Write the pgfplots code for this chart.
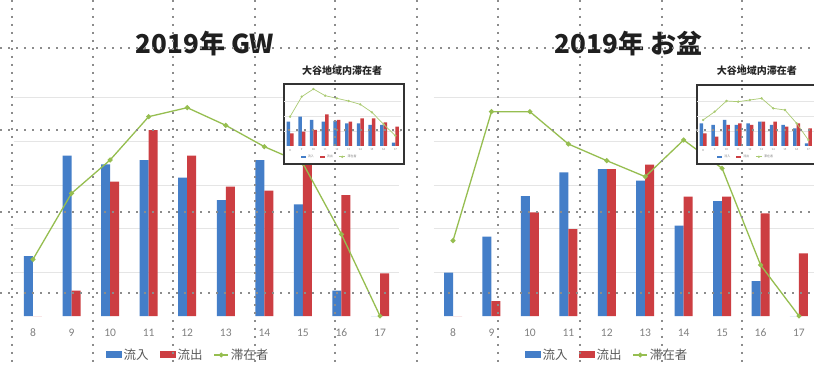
\documentclass[border=0pt]{standalone}
\usepackage{fontspec}
\usepackage{pgfplots}
\usepackage{pgfplotstable}
\pgfplotsset{compat=1.18}
\newfontfamily\cjk{Noto Sans CJK JP}
\newfontfamily\carlito{Carlito}
\definecolor{cblue}{RGB}{68,126,200}
\definecolor{cred}{RGB}{204,62,66}
\definecolor{cgreen}{RGB}{150,190,80}

\pgfplotstableread{
x in out stay
8 180 0 170
9 481 76 368
10 455 403 468
11 468 558 598
12 415 481 625
13 348 388 572
14 468 376 508
15 335 485 458
16 76 363 245
17 0 128 0
}\gw
\pgfplotstableread{
x in out stay
8 130 0 226
9 238 45 613
10 360 311 613
11 431 261 516
12 441 441 466
13 406 454 418
14 271 358 528
15 345 358 443
16 105 308 153
17 0 188 0
}\obon
\pgfplotstableread{
x in out stay
8 73 38 88
9 88 43 148
10 78 48 171
11 73 95 151
12 75 78 143
13 68 73 135
14 68 83 125
15 63 83 101
16 63 71 65
17 10 58 31
}\gwi
\pgfplotstableread{
x in out stay
8 68 38 78
9 63 28 103
10 78 63 135
11 63 68 133
12 68 63 138
13 73 73 143
14 63 73 113
15 63 58 108
16 53 68 68
17 8 53 18
}\oboni

\pgfplotsset{
 mainax/.style={
  scale only axis, height=240pt, ymin=0, ymax=720, xmin=7.5, xmax=17.5,
  anchor=south west, clip=false,
  axis line style={draw=none}, tick style={draw=none},
  xtick={8,...,17}, xticklabels={8,9,10,11,12,13,14,15,16,17},
  ytick={131,262,393,524,655}, yticklabels={}, ymajorgrids,
  grid style={black!10, line width=0.6pt},
  xticklabel style={font=\carlito\fontsize{11.5}{13}\selectfont, text=black!50, anchor=center, yshift=-17pt},
  title style={font=\cjk\bfseries\fontsize{26}{30}\selectfont, anchor=center, text=black!88},
  legend style={draw=none, fill=none, font=\cjk\fontsize{12.5}{14}\selectfont, text=black!65,
    anchor=center, /tikz/every even column/.append style={column sep=9pt}},
  legend columns=3,
 },
 insetax/.style={
  scale only axis, width=117pt, height=60pt, ymin=0, ymax=180, xmin=7.5, xmax=17.5,
  anchor=south west, clip=false,
  axis line style={draw=none}, tick style={draw=none},
  xtick={8,...,17}, xticklabels={8,9,10,11,12,13,14,15,16,17},
  ytick={45,90,135}, yticklabels={}, ymajorgrids,
  grid style={black!10, line width=0.4pt},
  xticklabel style={font=\carlito\fontsize{3}{3.5}\selectfont, text=black!50, anchor=center, yshift=-4pt},
  title style={font=\cjk\bfseries\fontsize{10}{12}\selectfont, anchor=center, text=black!85},
  legend style={draw=none, fill=none, font=\cjk\fontsize{3}{3.5}\selectfont, text=black!50,
    anchor=center, /tikz/every even column/.append style={column sep=4pt}},
  legend columns=3,
 },
 inb/.style={ybar, bar width=9pt, bar shift=-4.5pt, fill=cblue, draw=none,
   legend image code/.code={\fill[cblue] (0pt,-3pt) rectangle (16pt,4pt);}},
 outb/.style={ybar, bar width=9pt, bar shift=4.5pt, fill=cred, draw=none,
   legend image code/.code={\fill[cred] (0pt,-3pt) rectangle (16pt,4pt);}},
 stayl/.style={cgreen, line width=1.3pt, mark=*, mark size=1.8pt, mark options={fill=cgreen, draw=cgreen},
   legend image code/.code={\draw[##1, mark repeat=2, mark phase=2] plot coordinates {(0pt,0pt) (7pt,0pt) (14pt,0pt)};}},
 sinb/.style={ybar, bar width=3.5pt, bar shift=-1.75pt, fill=cblue, draw=none,
   legend image code/.code={\fill[cblue] (0pt,-0.8pt) rectangle (5pt,0.8pt);}},
 soutb/.style={ybar, bar width=3.5pt, bar shift=1.75pt, fill=cred, draw=none,
   legend image code/.code={\fill[cred] (0pt,-0.8pt) rectangle (5pt,0.8pt);}},
 sstayl/.style={cgreen!80, line width=0.7pt, mark=*, mark size=0.8pt, mark options={fill=cgreen!80, draw=cgreen!80},
   legend image code/.code={\draw[##1, mark repeat=2, mark phase=2] plot coordinates {(0pt,0pt) (3pt,0pt) (6pt,0pt)};}},
}

\begin{document}
\begin{tikzpicture}[x=1pt,y=1pt]
\useasboundingbox (0pt,0pt) rectangle (814pt,367pt);
\fill[white] (0pt,0pt) rectangle (814pt,367pt);

% Left main chart
\begin{axis}[mainax, at={(13.7pt,51pt)}, width=385.6pt,
  title={2019年 GW}, title style={at={(0.496,1.112)}},
  legend style={at={(0.452,-0.1625)}}]
\addplot[inb] table[x=x,y=in]{\gw};
\addplot[outb] table[x=x,y=out]{\gw};
\addplot[stayl] table[x=x,y=stay]{\gw};
\legend{流入,流出,滞在者}
\end{axis}

% Right main chart
\begin{axis}[mainax, at={(433.8pt,51pt)}, width=384.4pt,
  title={2019年 お盆}, title style={at={(0.5066,1.112)}},
  legend style={at={(0.4506,-0.1625)}}]
\addplot[inb] table[x=x,y=in]{\obon};
\addplot[outb] table[x=x,y=out]{\obon};
\addplot[stayl] table[x=x,y=stay]{\obon};
\legend{流入,流出,滞在者}
\end{axis}

% Insets
\filldraw[fill=white, draw=black!80, line width=1.2pt] (284pt,203pt) rectangle (404pt,283pt);
\begin{axis}[insetax, at={(284.2pt,221pt)},
  title={大谷地域内滞在者}, title style={at={(0.496,1.16)}},
  legend style={at={(0.39,-0.18)}}]
\addplot[sinb] table[x=x,y=in]{\gwi};
\addplot[soutb] table[x=x,y=out]{\gwi};
\addplot[sstayl] table[x=x,y=stay]{\gwi};
\legend{流入,流出,滞在者}
\end{axis}

\filldraw[fill=white, draw=black!80, line width=1.2pt] (697pt,203pt) rectangle (817pt,282pt);
\begin{axis}[insetax, at={(697.2pt,221pt)},
  title={大谷地域内滞在者}, title style={at={(0.51,1.15)}},
  legend style={at={(0.42,-0.18)}}]
\addplot[sinb] table[x=x,y=in]{\oboni};
\addplot[soutb] table[x=x,y=out]{\oboni};
\addplot[sstayl] table[x=x,y=stay]{\oboni};
\legend{流入,流出,滞在者}
\end{axis}

% dotted overlay grid of the screenshot
\foreach \x in {12,93,173,255,335,417,498,580,662,742}
  \draw[black!45, line width=1.8pt, dash pattern=on 1.8pt off 6.2pt] (\x pt,367pt) -- (\x pt,0pt);
\foreach \y in {319,237,155,74}
  \draw[black!45, line width=1.8pt, dash pattern=on 1.8pt off 6.2pt] (0pt,\y pt) -- (814pt,\y pt);
\end{tikzpicture}
\end{document}
